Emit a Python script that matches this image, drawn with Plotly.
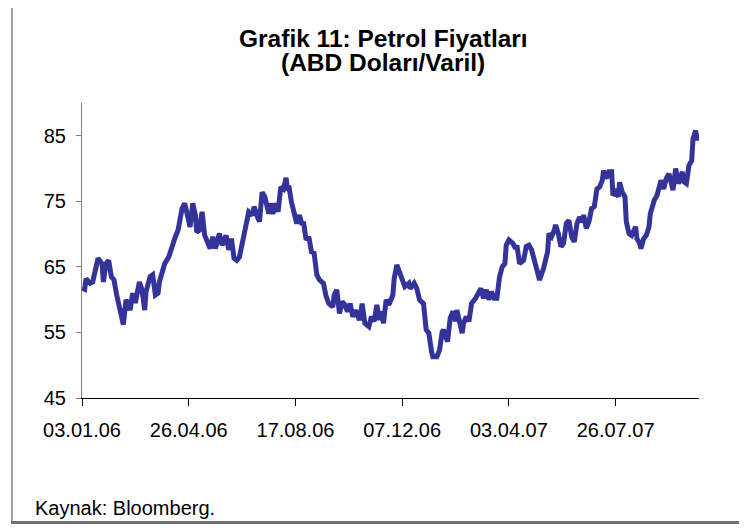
import plotly.graph_objects as go

# Trading-day index (0 = 03.01.06) and Brent price, USD/barrel
day = [0, 2, 3, 6, 8, 10, 12, 15, 16, 18, 20, 22, 24, 26, 28, 31, 33, 36, 38, 40,
       43, 45, 47, 48, 51, 53, 55, 57, 58, 60, 62, 65, 67, 70, 72, 75, 77, 78, 81, 83,
       85, 86, 88, 90, 92, 96, 98, 100, 103, 105, 108, 110, 112, 114, 116, 118, 120, 122, 125, 128,
       129, 131, 133, 135, 137, 140, 141, 143, 145, 147, 149, 151, 153, 154, 155, 157, 159, 161, 163, 165,
       166, 168, 170, 172, 174, 176, 178, 180, 181, 183, 185, 188, 189, 191, 193, 195, 197, 199, 201, 203,
       205, 208, 210, 212, 215, 217, 219, 221, 223, 224, 226, 228, 230, 233, 234, 236, 238, 240, 242, 245,
       246, 249, 251, 253, 256, 258, 260, 262, 263, 266, 268, 270, 271, 274, 276, 278, 280, 281, 283, 285,
       286, 288, 290, 292, 295, 297, 299, 301, 303, 305, 307, 309, 311, 313, 315, 317, 318, 320, 323, 325,
       326, 328, 331, 333, 335, 337, 340, 343, 346, 347, 349, 350, 352, 354, 355, 357, 359, 361, 363, 365,
       367, 369, 371, 373, 375, 376, 378, 380, 382, 384, 386, 388, 390, 391, 393, 395, 397, 398, 400, 402,
       403, 405, 407, 408, 410, 412, 415, 416, 418, 419, 421, 423, 425, 426, 429, 431, 434, 436, 438, 440,
       443, 445, 447, 450, 451, 453, 455, 457, 458, 460, 461, 462]

price = [61.8, 61.6, 63.2, 62.5, 62.7, 64.5, 66.3, 65.5, 62.7, 65.5, 66.0, 63.5, 63.0, 60.7, 59.0, 56.2, 60.0, 58.4, 61.0, 59.5,
         62.7, 61.5, 58.4, 61.2, 63.5, 63.8, 60.7, 61.0, 62.7, 64.3, 65.5, 66.5, 68.0, 69.6, 70.6, 73.9, 74.7, 73.9, 71.1, 74.7,
         72.9, 70.3, 70.6, 73.4, 69.8, 67.8, 69.6, 67.8, 70.1, 68.3, 69.8, 67.6, 69.3, 66.3, 66.0, 66.5, 68.6, 70.3, 73.4, 72.9,
         74.2, 72.9, 71.9, 76.4, 75.7, 73.1, 74.7, 73.1, 74.7, 73.4, 77.2, 76.9, 78.6, 76.7, 77.4, 74.9, 73.1, 71.6, 72.9, 71.4,
         71.9, 69.1, 69.6, 67.3, 67.1, 63.8, 63.0, 62.7, 62.5, 60.5, 59.4, 58.9, 60.7, 61.5, 57.9, 59.7, 59.2, 58.2, 59.4, 57.4,
         58.4, 56.9, 59.4, 56.4, 55.9, 57.4, 56.7, 59.2, 56.9, 58.2, 56.4, 60.0, 59.2, 60.7, 63.2, 65.3, 64.3, 63.0, 62.0, 62.5,
         61.7, 62.5, 61.7, 60.0, 59.4, 55.4, 54.9, 52.1, 51.3, 51.3, 52.3, 55.1, 55.4, 53.6, 57.2, 58.2, 56.7, 58.4, 56.9, 54.9,
         56.4, 57.4, 56.7, 59.4, 60.2, 61.0, 61.7, 60.2, 61.5, 60.0, 61.2, 60.2, 60.2, 63.5, 65.0, 65.5, 68.3, 69.1, 68.6, 67.8,
         68.3, 65.5, 66.0, 68.1, 68.3, 67.6, 65.5, 63.0, 64.8, 65.8, 67.3, 70.1, 69.6, 70.6, 71.4, 70.1, 68.1, 68.6, 71.6, 72.1,
         69.6, 68.8, 71.6, 72.6, 71.9, 72.9, 70.9, 71.9, 73.9, 74.2, 76.9, 77.2, 78.2, 79.7, 78.5, 79.5, 79.5, 75.9, 76.4, 75.7,
         77.9, 76.4, 75.7, 71.9, 70.1, 69.8, 71.1, 69.3, 68.6, 67.8, 69.3, 69.8, 71.1, 73.1, 75.2, 75.9, 78.2, 76.9, 78.5, 79.2,
         76.7, 80.0, 77.7, 79.5, 78.0, 77.7, 80.5, 81.2, 84.5, 85.8, 84.3, 85.3]

tick_days = [0, 80, 160, 240, 320, 400]
tick_labels = ["03.01.06", "26.04.06", "17.08.06", "07.12.06", "03.04.07", "26.07.07"]
y_ticks = [45, 55, 65, 75, 85]

# the page places the figure 8px in from the top-left corner
OFF = 8
W, H = 747 - OFF, 528 - OFF
L, R, T, B = 82 - OFF, 698.7 - OFF, 102.7 - OFF, 398.3 - OFF


def px(x):
    return (x - OFF - L) / (R - L)


def py(y):
    return (B - (y - OFF)) / (B - T)


FONT = "Liberation Sans, Arial, sans-serif"

fig = go.Figure()
fig.add_trace(go.Scatter(
    x=day, y=price, mode="lines",
    line=dict(color="#333399", width=5),
    hoverinfo="skip", showlegend=False,
))

fig.update_layout(
    width=W, height=H,
    margin=dict(l=L, r=W - R, t=T, b=H - B, pad=0),
    paper_bgcolor="white", plot_bgcolor="white",
    font=dict(family=FONT, size=20, color="black"),
    showlegend=False,
    xaxis=dict(
        range=[0, 462.5], tickmode="array", tickvals=tick_days, ticktext=tick_labels,
        showgrid=False, zeroline=False, showline=True, linecolor="black", linewidth=1,
        ticks="outside", ticklen=7, tickcolor="black", tickwidth=1,
        ticklabelstandoff=7, tickfont=dict(size=20, family=FONT),
    ),
    yaxis=dict(
        range=[45, 90], tickmode="array", tickvals=y_ticks,
        showgrid=False, zeroline=False, showline=True, linecolor="#808080", linewidth=1,
        ticks="outside", ticklen=5, tickcolor="#808080", tickwidth=1,
        ticklabelstandoff=6, tickfont=dict(size=20, family=FONT),
    ),
    annotations=[
        dict(text="<b>Grafik 11: Petrol Fiyatları</b>", xref="paper", yref="paper",
             x=px(383), y=py(38), xanchor="center", yanchor="middle", showarrow=False,
             font=dict(size=24.5, family=FONT, color="black")),
        dict(text="<b>(ABD Doları/Varil)</b>", xref="paper", yref="paper",
             x=px(383), y=py(62), xanchor="center", yanchor="middle", showarrow=False,
             font=dict(size=24.5, family=FONT, color="black")),
        dict(text="Kaynak: Bloomberg.", xref="paper", yref="paper",
             x=px(33), y=py(509), xanchor="left", yanchor="middle", showarrow=False,
             font=dict(size=20, family=FONT, color="black")),
    ],
    shapes=[
        dict(type="line", xref="paper", yref="paper",
             x0=px(12), x1=px(12), y0=py(523), y1=py(0),
             line=dict(color="#a0a0a0", width=2), layer="below"),
        dict(type="line", xref="paper", yref="paper",
             x0=px(745), x1=px(745), y0=py(523), y1=py(0),
             line=dict(color="#a0a0a0", width=2), layer="below"),
        dict(type="line", xref="paper", yref="paper",
             x0=px(11), x1=px(746), y0=py(523), y1=py(523),
             line=dict(color="#707070", width=3), layer="below"),
    ],
)

fig.write_html("out.html")
